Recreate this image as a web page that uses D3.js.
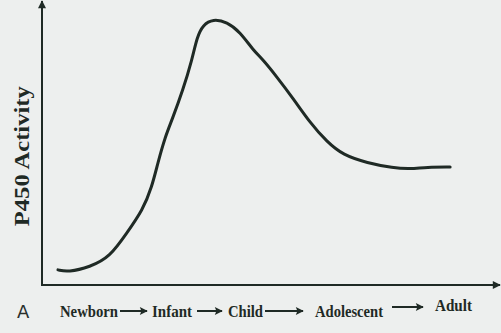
<!DOCTYPE html>
<html>
<head>
<meta charset="utf-8">
<script src="https://cdn.jsdelivr.net/npm/d3@7"></script>
<style>
  html, body { margin: 0; padding: 0; background: #edefee; }
  svg { display: block; }
</style>
</head>
<body>
<div id="chart"></div>
<script>
(function() {
  'use strict';

  // life stage (0-100) vs relative activity (0-100)
  var stageValues = [3.5, 5.7, 10.5, 14.9, 18.6, 22.1, 24.1, 25.4, 27.0, 28.5, 30.9, 32.9, 34.0, 35.3, 37.5,
    40.6, 43.4, 46.3, 48.5, 51.5, 55.0, 58.8, 62.5, 66.0, 71.3, 77.0, 80.7, 84.4, 89.5];
  var activityValues = [5.4, 4.6, 6.4, 10.0, 18.6, 26.8, 35.0, 43.6, 52.9, 58.9, 69.6, 80.4, 88.6, 92.9, 95.0,
    93.9, 90.4, 83.9, 80.4, 74.3, 66.8, 57.9, 51.1, 46.4, 43.6, 41.8, 41.4, 42.1, 42.1];
  var stages = ['Newborn', 'Infant', 'Child', 'Adolescent', 'Adult'];
  var yLabel = 'P450 Activity';

  var width = 501, height = 333;
  var ink = '#1f2a25';
  var x, y, svg, defs, line, pts, labelX, labelW, arrows;

  x = d3.scaleLinear().domain([0, 100]).range([42, 498]);
  y = d3.scaleLinear().domain([0, 100]).range([285, 5]);

  svg = d3.select('#chart').append('svg').attr('width', width).attr('height', height);

  defs = svg.append('defs');
  defs.append('marker').attr('id', 'head')
    .attr('viewBox', '0 0 10 10').attr('refX', 9).attr('refY', 5)
    .attr('markerWidth', 10).attr('markerHeight', 8).attr('markerUnits', 'userSpaceOnUse')
    .attr('orient', 'auto')
    .append('path').attr('d', 'M0,0L10,5L0,10Z').attr('fill', ink);
  defs.append('marker').attr('id', 'small')
    .attr('viewBox', '0 0 10 10').attr('refX', 9).attr('refY', 5)
    .attr('markerWidth', 10).attr('markerHeight', 8).attr('markerUnits', 'userSpaceOnUse')
    .attr('orient', 'auto')
    .append('path').attr('d', 'M0,0L10,5L0,10L2,5Z').attr('fill', ink);

  // axes drawn as plain arrows, no ticks
  svg.append('line').attr('x1', x(0)).attr('y1', y(0)).attr('x2', x(0)).attr('y2', 1)
    .attr('stroke', ink).attr('stroke-width', 2).attr('marker-end', 'url(#head)');
  svg.append('line').attr('x1', x(0) - 1).attr('y1', y(0)).attr('x2', 500).attr('y2', y(0))
    .attr('stroke', ink).attr('stroke-width', 2).attr('marker-end', 'url(#head)');

  pts = stageValues.map(function(d, i) { return [d, activityValues[i]]; });
  line = d3.line().x(function(d) { return x(d[0]); }).y(function(d) { return y(d[1]); })
    .curve(d3.curveBasis);

  svg.append('path').datum(pts).attr('d', line)
    .attr('fill', 'none').attr('stroke', ink).attr('stroke-width', 3)
    .attr('stroke-linecap', 'round').attr('stroke-linejoin', 'round');

  svg.append('text').attr('transform', 'translate(29,' + y(46) + ') rotate(-90)')
    .attr('text-anchor', 'middle')
    .attr('font-family', 'Liberation Serif, serif').attr('font-weight', 'bold')
    .attr('font-size', 20).attr('fill', ink)
    .attr('textLength', 140).attr('lengthAdjust', 'spacingAndGlyphs')
    .text(yLabel);

  svg.append('text').attr('x', 17).attr('y', 318)
    .attr('font-family', 'DejaVu Sans, sans-serif').attr('font-size', 18).attr('fill', '#2a302d')
    .text('A');

  // stage label layout along the bottom
  labelX = [60, 152, 228, 315, 435];
  labelW = [58, 40, 35, 68, 37];
  svg.selectAll('text.stage').data(stages).enter().append('text')
    .attr('class', 'stage')
    .attr('x', function(d, i) { return labelX[i]; })
    .attr('y', function(d, i) { return i === 4 ? 311 : 317; })
    .attr('font-family', 'Liberation Serif, serif').attr('font-weight', 'bold')
    .attr('font-size', 17).attr('fill', ink)
    .attr('textLength', function(d, i) { return labelW[i]; })
    .attr('lengthAdjust', 'spacingAndGlyphs')
    .text(function(d) { return d; });

  arrows = [[120, 147], [197, 222], [265, 303], [392, 423]];
  svg.selectAll('line.step').data(arrows).enter().append('line')
    .attr('class', 'step')
    .attr('x1', function(d) { return d[0]; }).attr('x2', function(d) { return d[1]; })
    .attr('y1', function(d, i) { return i === 3 ? 307 : 311; })
    .attr('y2', function(d, i) { return i === 3 ? 307 : 311; })
    .attr('stroke', ink).attr('stroke-width', 2).attr('marker-end', 'url(#small)');
}).call(this);
</script>
</body>
</html>
